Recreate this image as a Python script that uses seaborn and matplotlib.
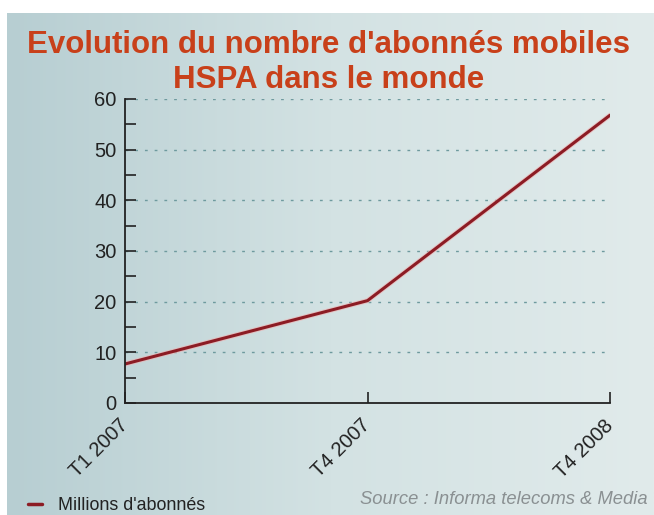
import numpy as np
import pandas as pd
import matplotlib
matplotlib.use("Agg")
import matplotlib.pyplot as plt
from matplotlib.colors import LinearSegmentedColormap
from matplotlib.ticker import MultipleLocator
import seaborn as sns

periods = ["T1 2007", "T4 2007", "T4 2008"]
subscribers = [7.7, 20.2, 56.8]
series_name = "Millions d'abonnés"
title_lines = ["Evolution du nombre d'abonnés mobiles", "HSPA dans le monde"]
source = "Source : Informa telecoms & Media"

sns.set_style("white")
plt.rcParams["font.family"] = ["Liberation Sans", "DejaVu Sans"]

W, H = 654, 515
fig = plt.figure(figsize=(W / 100, H / 100), dpi=100, facecolor="white")

# background gradient panel
bg = fig.add_axes([7 / W, 0, 1 - 7 / W, (H - 13) / H], zorder=-10)
cmap = LinearSegmentedColormap.from_list("bg", ["#b7ced2", "#d3e2e3", "#e1ebeb"])
grad = np.linspace(0, 1, 256).reshape(1, -1)
bg.imshow(grad, aspect="auto", cmap=cmap, extent=[0, 1, 0, 1])
bg.set_axis_off()

ax = fig.add_axes([125 / W, 1 - 403 / H, (610 - 125) / W, (403 - 99) / H])
ax.set_facecolor("none")

df = pd.DataFrame({"period": periods, "value": subscribers})
sns.lineplot(data=df, x="period", y="value", ax=ax, color="#f0b0b0",
             linewidth=3.6, sort=False, legend=False, alpha=0.6)
sns.lineplot(data=df, x="period", y="value", ax=ax, color="#8c1c24",
             linewidth=2.2, sort=False, legend=False)

ax.set_xlim(0, 2)
ax.set_ylim(0, 60)
ax.yaxis.set_major_locator(MultipleLocator(10))
ax.yaxis.set_minor_locator(MultipleLocator(5))
for y in range(10, 61, 10):
    ax.axhline(y, color="#6e9a9e", linestyle=(0, (2, 5)), linewidth=1, zorder=0)

for s in ["top", "right"]:
    ax.spines[s].set_visible(False)
for s in ["left", "bottom"]:
    ax.spines[s].set_color("#222222")
    ax.spines[s].set_linewidth(1.3)

ax.tick_params(axis="y", which="both", direction="in", length=8, width=1.2,
               color="#222222", labelsize=14.5, labelcolor="#222222", pad=6,
               left=True, right=False)
ax.tick_params(axis="x", which="both", direction="in", length=8, width=1.2,
               color="#222222", labelsize=14.5, labelcolor="#222222", pad=14,
               bottom=True, top=False)
ax.set_xticks(range(len(periods)))
ax.set_xticklabels(periods, rotation=45, ha="right", va="center",
                   rotation_mode="anchor")
ax.set_xlabel("")
ax.set_ylabel("")

for line, ypix in zip(title_lines, [45, 80]):
    fig.text(0.503, 1 - ypix / H, line, ha="center", va="center", fontsize=22.5,
             fontweight="bold", color="#c8401a")

fig.text(648 / W, 1 - 499 / H, source, ha="right", va="center", fontsize=13.2,
         style="italic", color="#8a9092")

handle = plt.Line2D([], [], color="#8c1c24", linewidth=2.5)
fig.legend([handle], [series_name], loc="center left",
           bbox_to_anchor=(12 / W, 1 - 506 / H), frameon=False, fontsize=12.9,
           handlelength=0.75, handletextpad=0.9, labelcolor="#222222")

fig.savefig("out.png", dpi=100, facecolor="white")
